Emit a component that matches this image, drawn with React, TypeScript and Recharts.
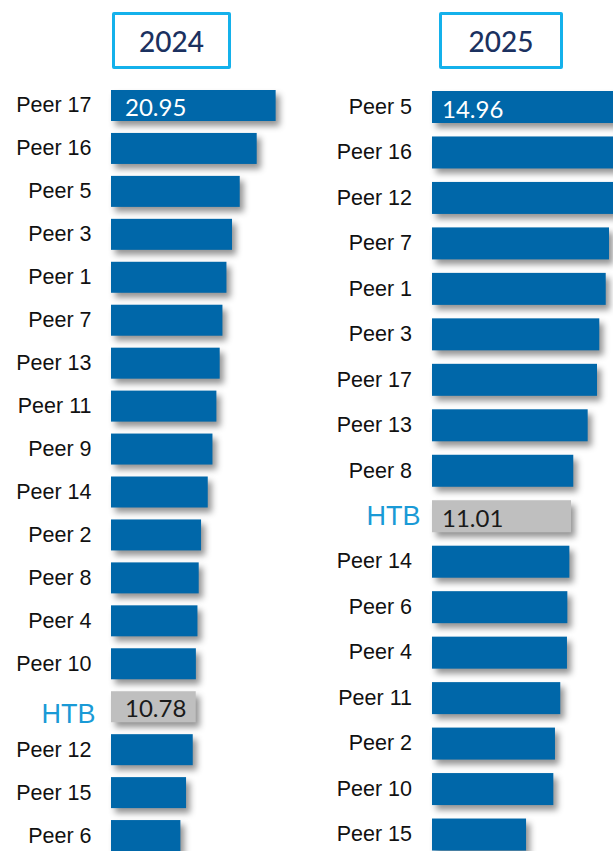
import React from 'react';
import { BarChart, Bar, XAxis, YAxis, LabelList } from 'recharts';

const peers2024 = ['Peer 17', 'Peer 16', 'Peer 5', 'Peer 3', 'Peer 1', 'Peer 7', 'Peer 13', 'Peer 11', 'Peer 9', 'Peer 14', 'Peer 2', 'Peer 8', 'Peer 4', 'Peer 10', 'HTB', 'Peer 12', 'Peer 15', 'Peer 6'];
const values2024 = [20.95, 18.54, 16.38, 15.4, 14.69, 14.18, 13.83, 13.41, 12.91, 12.31, 11.46, 11.16, 11.0, 10.8, 10.78, 10.4, 9.55, 8.83];
const peers2025 = ['Peer 5', 'Peer 16', 'Peer 12', 'Peer 7', 'Peer 1', 'Peer 3', 'Peer 17', 'Peer 13', 'Peer 8', 'HTB', 'Peer 14', 'Peer 6', 'Peer 4', 'Peer 11', 'Peer 2', 'Peer 10', 'Peer 15'];
const values2025 = [14.96, 14.8, 14.5, 14.02, 13.76, 13.25, 13.07, 12.33, 11.19, 11.01, 10.88, 10.72, 10.69, 10.16, 9.74, 9.61, 7.45];
const years = ['2024', '2025'];
const shownLabels = ['Peer 17', 'Peer 5', 'HTB'];
const HIGHLIGHT = 'HTB';

const BLUE = '#0067a9';
const GRAY = '#bfbfbf';
const CYAN = '#1a9ad6';

const data2024 = peers2024.map((name, i) => ({ name, value: values2024[i] }));
const data2025 = peers2025.map((name, i) => ({ name, value: values2025[i] }));

const ShadowBar = (props: any) => {
  const { x, y, width, height, payload } = props;
  const fill = payload && payload.name === HIGHLIGHT ? GRAY : BLUE;
  return (
    <rect
      x={x}
      y={y}
      width={width}
      height={height}
      fill={fill}
      style={{ filter: 'drop-shadow(4px 5px 3px rgba(0,0,0,0.42))' }}
    />
  );
};

const makeTick = (peerGap: number, htbGap: number, htbDy: number) => (props: any) => {
  const { x, y, payload } = props;
  const isH = payload.value === HIGHLIGHT;
  return (
    <text
      x={x - (isH ? htbGap : peerGap)}
      y={y + (isH ? htbDy : 0)}
      textAnchor="end"
      dominantBaseline="central"
      fontFamily="'Liberation Sans', Arial, sans-serif"
      fontSize={isH ? 27 : 21.5}
      fill={isH ? CYAN : '#111'}
    >
      {payload.value}
    </text>
  );
};

const makeValueLabel = (data: { name: string; value: number }[], offset: number, firstName: string) => (props: any) => {
  const { x, y, height, index, value } = props;
  const entry = data[index];
  if (!entry || !shownLabels.includes(entry.name)) return null;
  if (entry.name !== HIGHLIGHT && entry.name !== firstName) return null;
  const isH = entry.name === HIGHLIGHT;
  return (
    <text
      x={x + offset}
      y={y + height / 2 + 1}
      dominantBaseline="central"
      fontFamily="Lato, 'Noto Sans', sans-serif"
      fontWeight={400}
      fontSize={24}
      fill={isH ? '#1a1a1a' : '#ffffff'}
    >
      {Number(value).toFixed(2)}
    </text>
  );
};

const boxStyle = (left: number, top: number, width: number, height: number): React.CSSProperties => ({
  position: 'absolute',
  left,
  top,
  width,
  height,
  boxSizing: 'border-box',
  border: '3.5px solid #14b1eb',
  borderRadius: 2,
  display: 'flex',
  alignItems: 'center',
  justifyContent: 'center',
  fontFamily: "Lato, 'Noto Sans', sans-serif",
  fontWeight: 500,
  fontSize: 28,
  color: '#1b3160',
  background: '#fff',
});

export default function App() {
  return (
    <div
      style={{
        position: 'fixed',
        left: 0,
        top: 0,
        width: 613,
        height: 851,
        overflow: 'hidden',
        background: '#fff',
      }}
    >
      <div style={boxStyle(112, 12, 119, 57)}>{years[0]}</div>
      <div style={boxStyle(439, 12, 124, 57)}>{years[1]}</div>

      <div style={{ position: 'absolute', left: 0, top: 0 }}>
        <BarChart
          width={300}
          height={857}
          data={data2024}
          layout="vertical"
          margin={{ top: 84, right: 0, bottom: 0, left: 0 }}
        >
          <XAxis type="number" hide domain={[0, 24.05]} />
          <YAxis
            type="category"
            dataKey="name"
            width={111}
            axisLine={false}
            tickLine={false}
            tickSize={0}
            tickMargin={0}
            interval={0}
            tick={makeTick(19.5, 15.5, 7)}
          />
          <Bar dataKey="value" barSize={31} isAnimationActive={false} shape={<ShadowBar />}>
            <LabelList dataKey="value" content={makeValueLabel(data2024, 14, peers2024[0])} />
          </Bar>
        </BarChart>
      </div>

      <div style={{ position: 'absolute', left: 300, top: 0 }}>
        <BarChart
          width={334}
          height={857}
          data={data2025}
          layout="vertical"
          margin={{ top: 84, right: 0, bottom: 0, left: 0 }}
        >
          <XAxis type="number" hide domain={[0, 16]} />
          <YAxis
            type="category"
            dataKey="name"
            width={132}
            axisLine={false}
            tickLine={false}
            tickSize={0}
            tickMargin={0}
            interval={0}
            tick={makeTick(20, 11.5, 0)}
          />
          <Bar dataKey="value" barSize={32} isAnimationActive={false} shape={<ShadowBar />}>
            <LabelList dataKey="value" content={makeValueLabel(data2025, 10, peers2025[0])} />
          </Bar>
        </BarChart>
      </div>
    </div>
  );
}
